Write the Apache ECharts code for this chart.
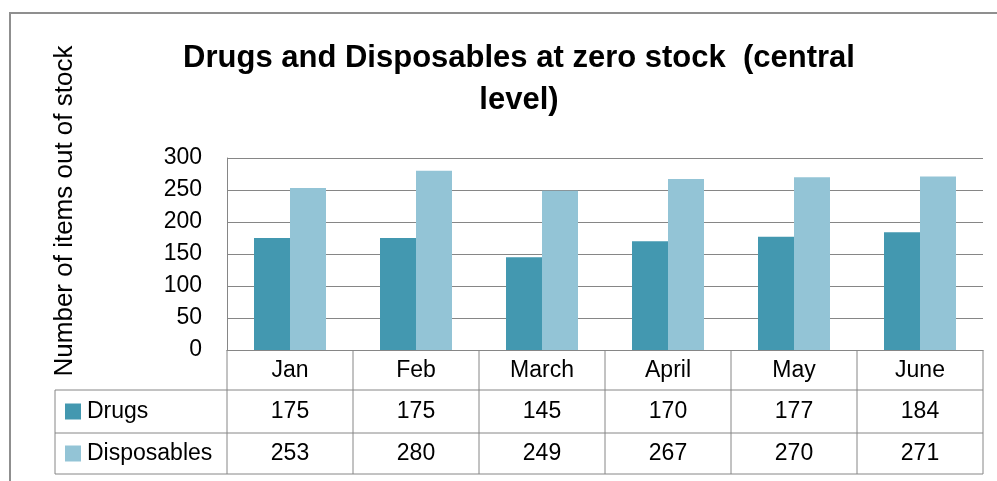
<!DOCTYPE html>
<html>
<head>
<meta charset="utf-8">
<script src="https://cdn.jsdelivr.net/npm/echarts@6/dist/echarts.min.js"></script>
<style>
  html, body { margin: 0; padding: 0; background: #fff; }
  #chart { width: 997px; height: 481px; }
</style>
</head>
<body>
<div id="chart"></div>
<script>
// data
var months = ['Jan', 'Feb', 'March', 'April', 'May', 'June'];
var drugs = [175, 175, 145, 170, 177, 184];
var disposables = [253, 280, 249, 267, 270, 271];
var seriesNames = ['Drugs', 'Disposables'];
var colors = ['#4398b0', '#93c4d6'];

var FONT = 'Liberation Sans';
var LINE = '#868686';
var GRID = { left: 227, right: 14, top: 158, bottom: 131 };

var chart = echarts.init(document.getElementById('chart'));

var option = {
  animation: false,
  title: {
    text: 'Drugs and Disposables at zero stock  (central\nlevel)',
    left: 514,
    top: 32,
    textAlign: 'center',
    textStyle: {
      fontFamily: FONT,
      fontWeight: 'bold',
      fontSize: 31,
      lineHeight: 42,
      color: '#000'
    }
  },
  grid: GRID,
  xAxis: {
    type: 'category',
    data: months,
    axisLine: { lineStyle: { color: LINE, width: 1 } },
    axisTick: { show: false },
    axisLabel: { margin: 9, fontFamily: FONT, fontSize: 23, color: '#000' }
  },
  yAxis: {
    type: 'value',
    min: 0,
    max: 300,
    interval: 50,
    axisLine: { show: true, lineStyle: { color: LINE, width: 1 } },
    axisTick: { show: false },
    splitLine: { lineStyle: { color: LINE, width: 1 } },
    axisLabel: { margin: 25, fontFamily: FONT, fontSize: 23, color: '#000' }
  },
  series: [
    {
      name: seriesNames[0],
      type: 'bar',
      data: drugs,
      barWidth: 36,
      barGap: '0%',
      itemStyle: { color: colors[0] }
    },
    {
      name: seriesNames[1],
      type: 'bar',
      data: disposables,
      barWidth: 36,
      barGap: '0%',
      itemStyle: { color: colors[1] }
    }
  ]
};

chart.setOption(option);

// data table under the plot, built from the same arrays
function buildTable() {
  var W = chart.getWidth();
  var left = GRID.left, right = W - GRID.right;
  var axisY = chart.getHeight() - GRID.bottom;
  var band = (right - left) / months.length;
  var rows = [axisY + 40, axisY + 83, axisY + 124]; // bottom of header, row1, row2
  var labelLeft = 55;
  var els = [];

  // outer chart border
  els.push({ type: 'polyline', shape: { points: [[10, 490], [10, 13], [1000, 13]] },
    style: { stroke: '#8f8f8f', lineWidth: 2, fill: null } });

  // y axis title
  els.push({ type: 'text', x: 65, y: 211, rotation: Math.PI / 2,
    style: { text: 'Number of items out of stock', fontFamily: FONT, fontSize: 26,
      fill: '#000', align: 'center', verticalAlign: 'middle' } });

  // horizontal table lines
  rows.forEach(function (y) {
    els.push({ type: 'line', shape: { x1: labelLeft, y1: y, x2: right, y2: y },
      style: { stroke: LINE, lineWidth: 1 } });
  });
  // vertical lines
  els.push({ type: 'line', shape: { x1: labelLeft, y1: rows[0], x2: labelLeft, y2: rows[2] },
    style: { stroke: LINE, lineWidth: 1 } });
  for (var i = 0; i <= months.length; i++) {
    var x = left + band * i;
    els.push({ type: 'line', shape: { x1: x, y1: axisY, x2: x, y2: rows[2] },
      style: { stroke: LINE, lineWidth: 1 } });
  }

  var tableData = [drugs, disposables];
  tableData.forEach(function (vals, r) {
    var top = rows[r], bottom = rows[r + 1];
    var cy = (top + bottom) / 2;
    els.push({ type: 'rect', shape: { x: labelLeft + 10, y: cy - 8, width: 16, height: 16 },
      style: { fill: colors[r] } });
    els.push({ type: 'text', x: labelLeft + 32, y: cy,
      style: { text: seriesNames[r], fontFamily: FONT, fontSize: 23, fill: '#000',
        align: 'left', verticalAlign: 'middle' } });
    vals.forEach(function (v, c) {
      els.push({ type: 'text', x: left + band * (c + 0.5), y: cy,
        style: { text: String(v), fontFamily: FONT, fontSize: 23, fill: '#000',
          align: 'center', verticalAlign: 'middle' } });
    });
  });

  chart.setOption({ graphic: { elements: els } });
}

buildTable();
</script>
</body>
</html>
